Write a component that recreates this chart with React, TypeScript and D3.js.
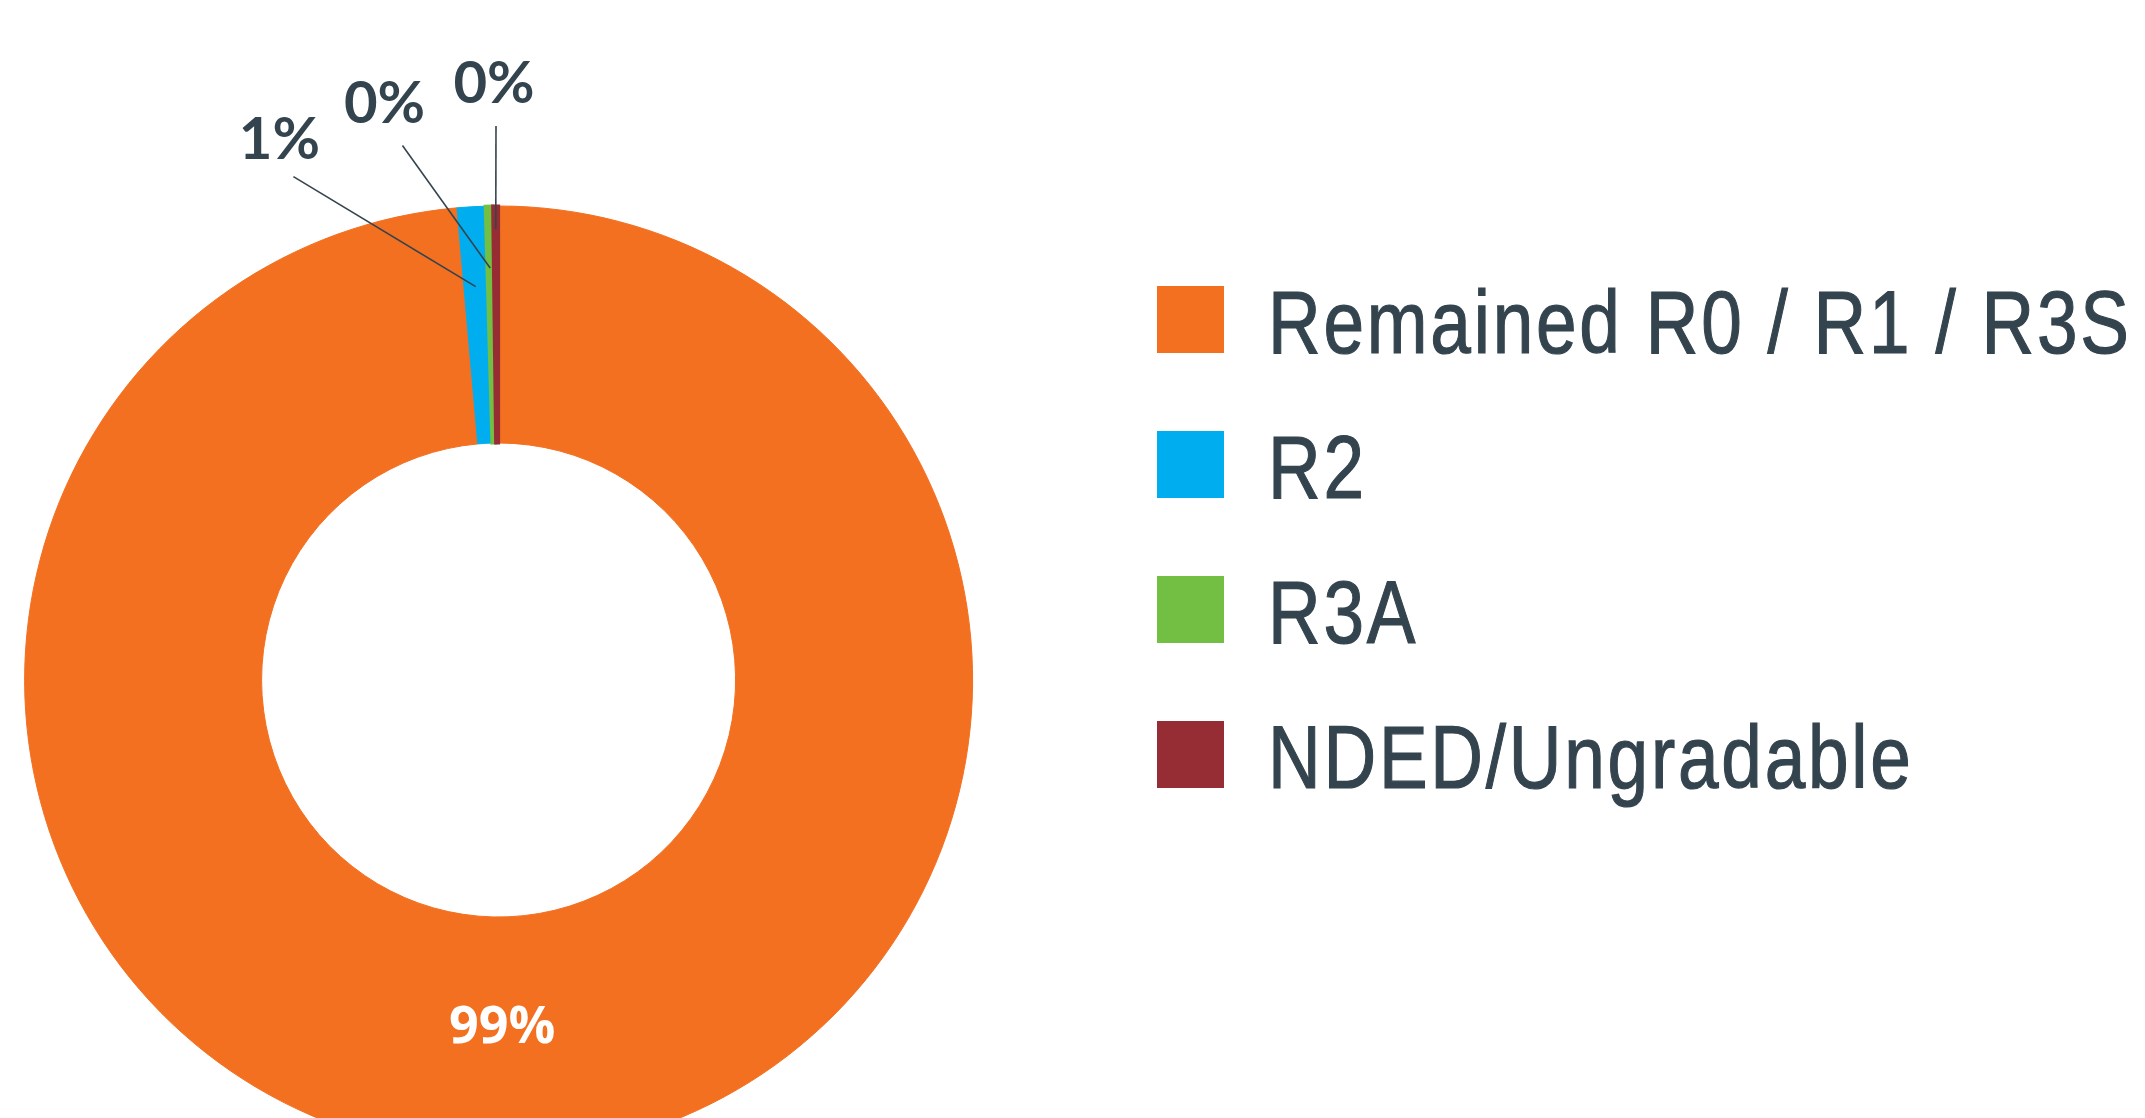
import React from "react";
import * as d3 from "d3";

// ---- data ----
const categories = ["Remained R0 / R1 / R3S", "R2", "R3A", "NDED/Ungradable"];
const shares = [98.6, 0.95, 0.25, 0.2];
const shareLabels = ["99%", "1%", "0%", "0%"];
const colors = ["#F37021", "#00AEEF", "#72BF44", "#972D34"];

// ---- layout ----
const W = 2145;
const H = 1118;
const CX = 498.6;
const CY = 680;
const R_OUT = 474;
const R_IN = 237;
const TEXT = "#34444E";

// leader-line layout for the small slices (index -> placement)
const leader: Record<number, { rIn: number; angOut: number; rOut: number; tdx: number; tdy: number }> = {
  1: { rIn: 394, angOut: -0.387, rOut: 543.6, tdx: -14, tdy: -18 },
  2: { rIn: 412, angOut: -0.178, rOut: 543, tdx: -18, tdy: -23 },
  3: { rIn: 451, angOut: -0.0047, rOut: 554, tdx: -2, tdy: -23 },
};

export default function App() {
  const pie = d3.pie<number>().sort(null).value((d) => d);
  const arcs = pie(shares);
  const arc = d3.arc<d3.PieArcDatum<number>>().innerRadius(R_IN).outerRadius(R_OUT);
  const polar = (a: number, r: number): [number, number] => [Math.sin(a) * r, -Math.cos(a) * r];

  const legendY = d3.scaleBand<string>().domain(categories).range([286, 286 + 145 * 4]).paddingInner(0);

  return (
    <svg
      width={W}
      height={H}
      style={{ position: "absolute", left: 0, top: 0, display: "block", background: "#fff" }}
    >
      <g transform={`translate(${CX},${CY})`}>
        {arcs.map((a, i) => (
          <path
            key={i}
            d={arc(a) || ""}
            fill={colors[i]}
            stroke={colors[i]}
            strokeWidth={i >= 2 ? 3 : 1}
            strokeLinejoin="miter"
          />
        ))}
        {arcs.map((a, i) => {
          const L = leader[i];
          if (!L) {
            const [x, y] = arc.centroid(a);
            return (
              <text
                key={"l" + i}
                x={x - 12}
                y={y + 8}
                textAnchor="middle"
                fontFamily="'Open Sans', Lato, sans-serif"
                fontWeight={700}
                fontSize={52}
                fill="#fff"
              >
                {shareLabels[i]}
              </text>
            );
          }
          const mid = (a.startAngle + a.endAngle) / 2 - 2 * Math.PI;
          const [x1, y1] = polar(mid, L.rIn);
          const [x2, y2] = polar(L.angOut, L.rOut);
          return (
            <g key={"l" + i}>
              <line x1={x1} y1={y1} x2={x2} y2={y2} stroke="#34444E" strokeWidth={1.6} />
              <text
                x={x2 + L.tdx}
                y={y2 + L.tdy}
                textAnchor="middle"
                fontFamily="Lato, 'Open Sans', sans-serif"
                fontWeight={700}
                fontSize={58}
                fill={TEXT}
              >
                {shareLabels[i]}
              </text>
            </g>
          );
        })}
      </g>
      <g>
        {categories.map((c, i) => {
          const y = legendY(c)!;
          return (
            <g key={c}>
              <rect x={1157} y={y} width={67} height={67} fill={colors[i]} />
              <text
                transform={`translate(1268,${y + 67}) scale(0.82,1)`}
                fontFamily="'Liberation Sans', Arial, sans-serif"
                fontSize={89}
                letterSpacing={3.36}
                fill={TEXT}
                stroke={TEXT}
                strokeWidth={1.2}
              >
                {c}
              </text>
            </g>
          );
        })}
      </g>
    </svg>
  );
}
